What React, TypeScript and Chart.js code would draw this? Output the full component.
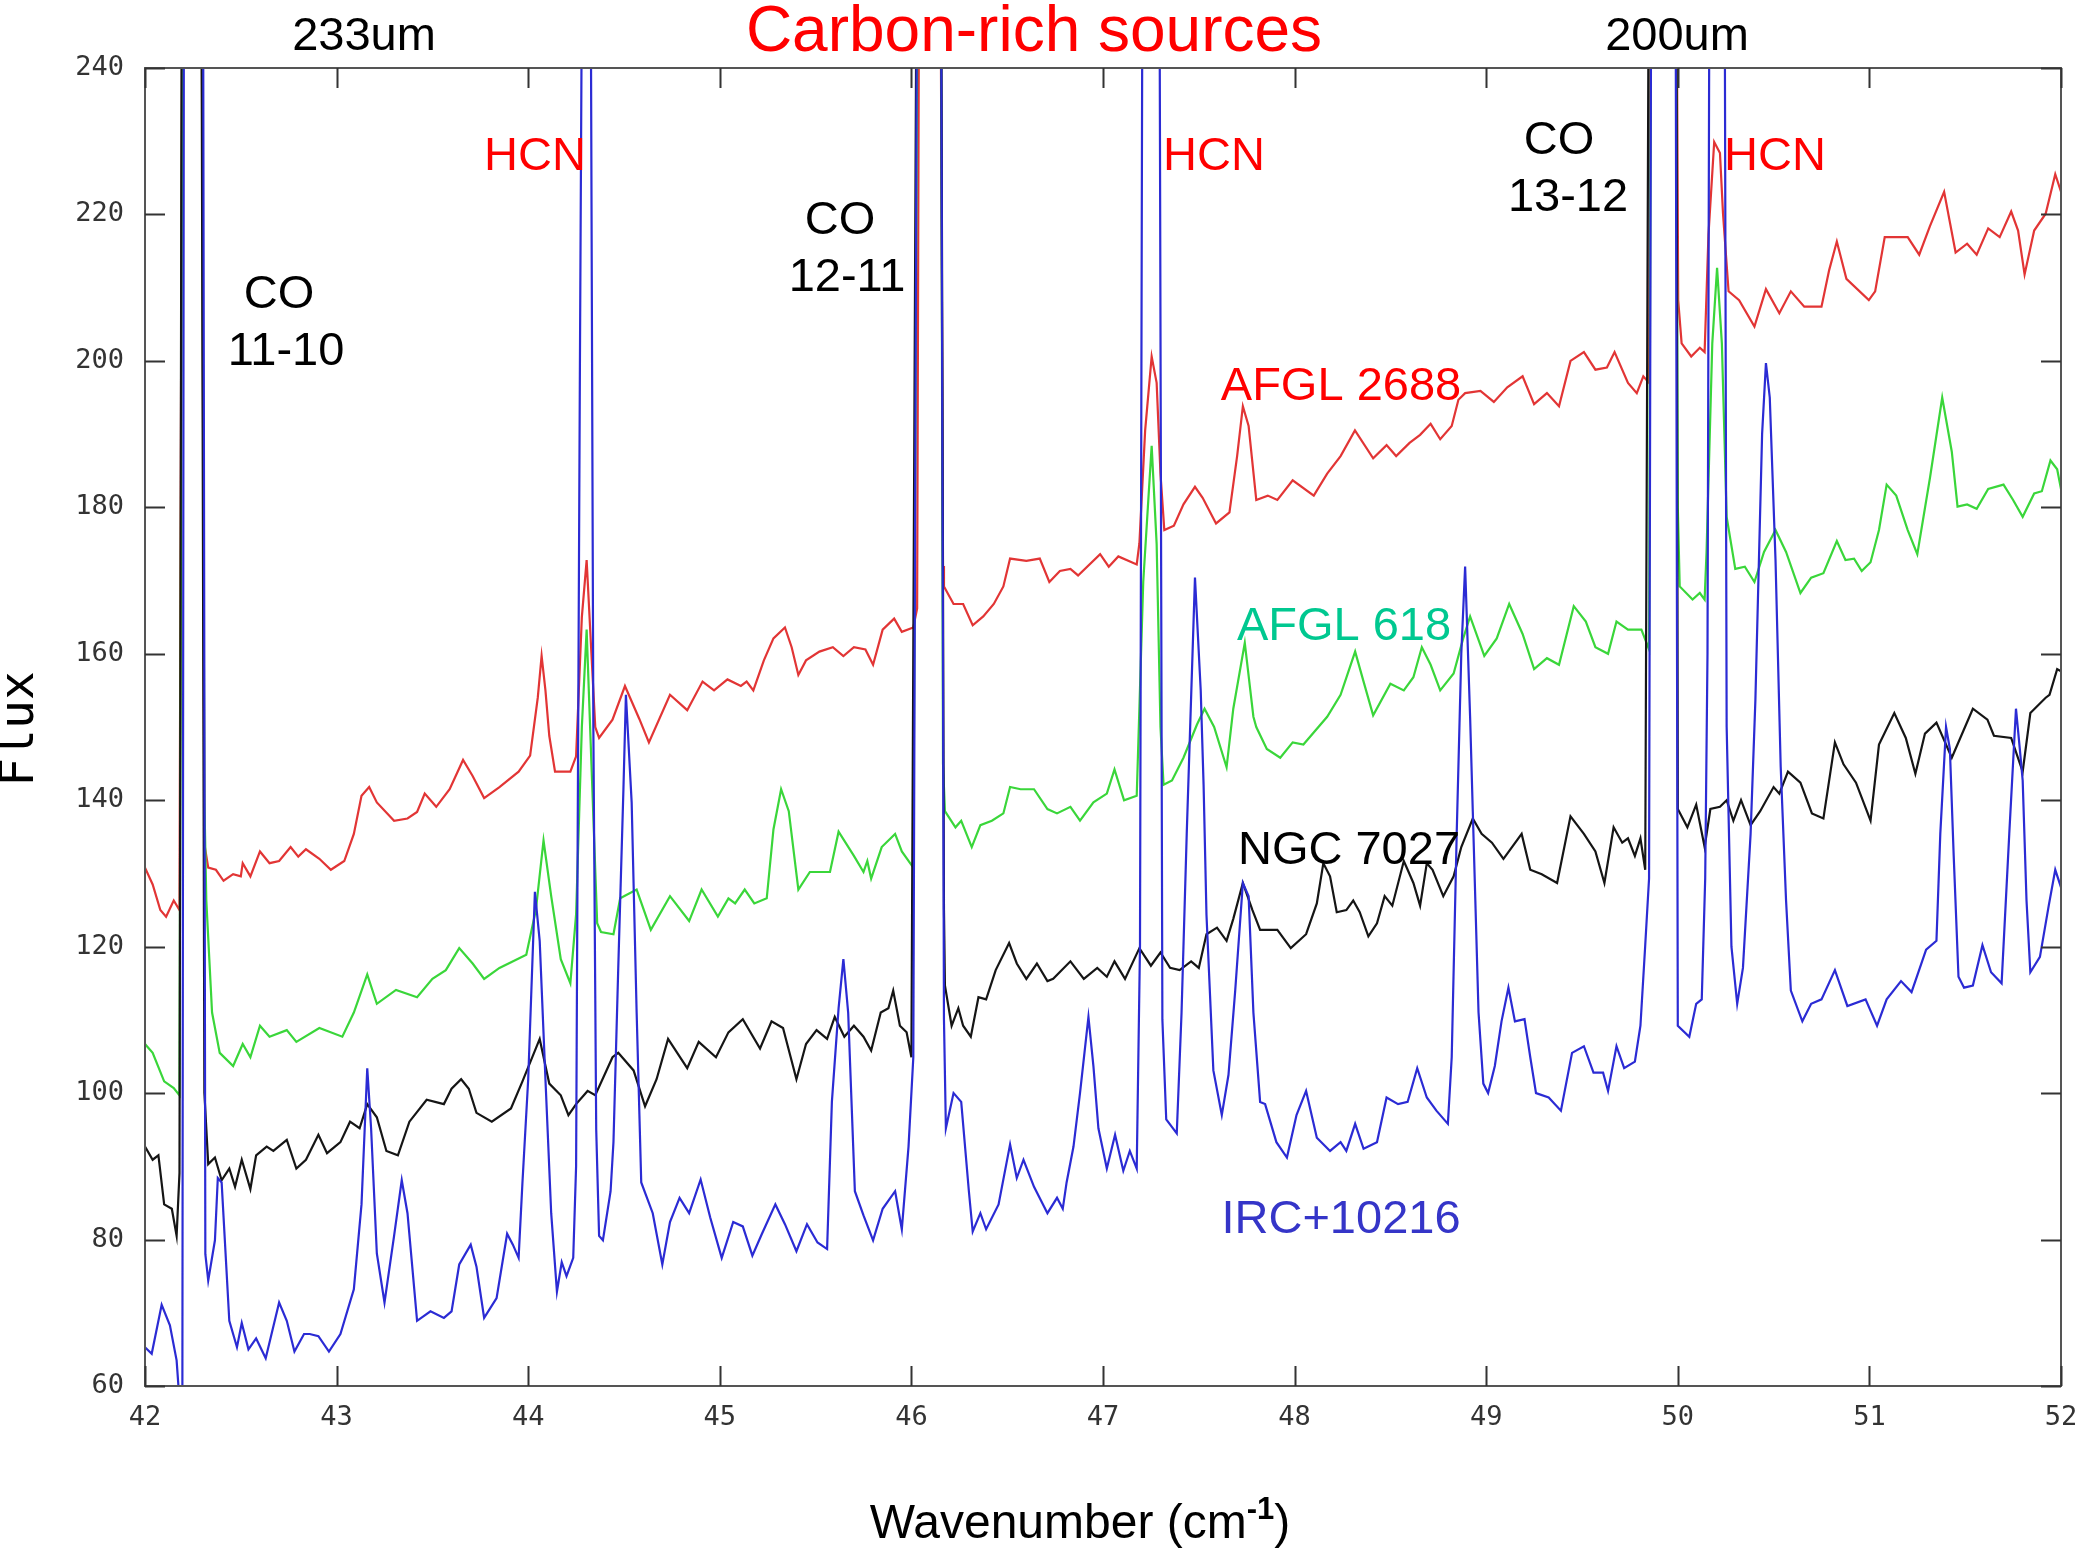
import React, { useEffect, useRef } from "react";
import { Chart, registerables } from "chart.js";

Chart.register(...registerables);

// ---- axis ticks ----
const X_TICKS = [42, 43, 44, 45, 46, 47, 48, 49, 50, 51, 52];
const Y_TICKS = [60, 80, 100, 120, 140, 160, 180, 200, 220, 240];

// ---- spectra: [wavenumber (cm^-1), flux]; values > 240 are off-scale line peaks ----
const AFGL2688: [number, number][] = [
  [42.0,130.8],[42.04,128.5],[42.08,125],[42.11,124.1],[42.15,126.3],[42.18,125],[42.2,300],[42.29,300],[42.31,134],[42.33,130.8],
  [42.37,130.5],[42.41,129],[42.46,129.9],[42.5,129.6],[42.51,131.4],[42.55,129.6],[42.6,133],[42.65,131.4],[42.7,131.7],[42.76,133.6],
  [42.8,132.3],[42.84,133.3],[42.91,132],[42.97,130.5],[43.04,131.7],[43.09,135.4],[43.13,140.6],[43.17,141.8],[43.21,139.7],[43.3,137.2],
  [43.37,137.5],[43.42,138.4],[43.46,140.9],[43.52,139.1],[43.59,141.5],[43.66,145.5],[43.71,143.3],[43.77,140.3],[43.85,141.8],[43.95,143.9],
  [44.01,146.1],[44.05,154],[44.07,159.7],[44.09,155],[44.11,148.8],[44.14,143.9],[44.22,143.9],[44.25,146],[44.28,165],[44.305,172.8],
  [44.33,160],[44.35,150],[44.37,148.5],[44.44,151],[44.505,155.6],[44.58,151.1],[44.63,147.9],[44.74,154.4],[44.83,152.3],[44.91,156.2],
  [44.97,155],[45.04,156.5],[45.11,155.6],[45.14,156.2],[45.175,155],[45.23,159.1],[45.28,162.1],[45.34,163.6],[45.375,160.9],[45.41,157.1],
  [45.45,159.1],[45.52,160.3],[45.59,160.9],[45.645,159.7],[45.7,160.9],[45.76,160.6],[45.8,158.5],[45.85,163.3],[45.91,164.8],[45.95,163],
  [46.01,163.6],[46.03,166.2],[46.045,300],[46.145,300],[46.165,172],[46.17,169.2],[46.22,166.8],[46.27,166.8],[46.32,163.9],[46.375,165.1],
  [46.43,166.8],[46.48,169.2],[46.515,173],[46.6,172.7],[46.67,173],[46.72,169.8],[46.775,171.3],[46.83,171.6],[46.87,170.7],[46.985,173.6],
  [47.03,171.9],[47.08,173.3],[47.176,172.2],[47.19,175.1],[47.22,190.5],[47.254,200.6],[47.28,197],[47.3,184.6],[47.32,176.9],[47.37,177.5],
  [47.42,180.4],[47.48,182.8],[47.52,181.3],[47.59,177.8],[47.66,179.3],[47.7,187],[47.73,193.8],[47.76,191.1],[47.8,181],[47.86,181.6],
  [47.91,181],[47.99,183.7],[48.1,181.6],[48.17,184.6],[48.24,187],[48.315,190.5],[48.41,186.7],[48.48,188.5],[48.53,187],[48.6,188.8],
  [48.655,189.9],[48.71,191.4],[48.76,189.3],[48.82,191.1],[48.855,194.7],[48.89,195.6],[48.97,195.9],[49.04,194.4],[49.11,196.4],[49.19,197.9],
  [49.25,194.1],[49.317,195.6],[49.38,193.8],[49.44,200],[49.51,201.2],[49.57,198.8],[49.63,199.1],[49.67,201.2],[49.74,197],[49.786,195.6],
  [49.82,197.9],[49.85,197],[49.865,300],[49.985,300],[50.002,208.3],[50.02,202.4],[50.07,200.6],[50.115,201.8],[50.14,201.2],[50.16,217.2],
  [50.19,229.9],[50.22,228.4],[50.236,220.1],[50.265,209.5],[50.32,208.3],[50.4,204.7],[50.46,209.8],[50.53,206.5],[50.59,209.5],[50.66,207.4],
  [50.75,207.4],[50.79,212.4],[50.83,216.3],[50.88,211.2],[50.997,208.3],[51.03,209.5],[51.08,216.9],[51.2,216.9],[51.26,214.5],[51.316,218.4],
  [51.39,223.1],[51.45,214.8],[51.51,216],[51.56,214.5],[51.62,218.1],[51.68,216.9],[51.74,220.4],[51.776,217.8],[51.81,211.8],[51.86,217.8],
  [51.92,220.1],[51.97,225.5],[52.0,223.1],
];

const AFGL618: [number, number][] = [
  [42.0,106.7],[42.04,105.5],[42.1,101.6],[42.15,100.7],[42.18,99.7],[42.2,300],[42.29,300],[42.31,140],[42.32,126.3],[42.35,111],
  [42.39,105.5],[42.46,103.7],[42.51,106.7],[42.55,104.9],[42.6,109.2],[42.65,107.7],[42.74,108.6],[42.79,107],[42.91,108.9],[43.03,107.7],
  [43.09,111],[43.16,116.2],[43.21,112.2],[43.31,114.1],[43.42,113.1],[43.5,115.6],[43.57,116.8],[43.64,119.8],[43.71,117.7],[43.77,115.6],
  [43.85,117.1],[43.99,118.9],[44.04,125],[44.08,134.5],[44.12,126.9],[44.17,118.3],[44.22,115],[44.25,124.4],[44.28,150],[44.305,163.3],
  [44.33,145],[44.36,123.2],[44.38,122],[44.445,121.7],[44.48,126.6],[44.566,127.8],[44.64,122.3],[44.74,126.9],[44.84,123.5],[44.905,127.8],
  [44.99,124.1],[45.045,126.6],[45.08,125.9],[45.13,127.8],[45.18,125.9],[45.245,126.6],[45.28,136],[45.32,141.5],[45.36,138.5],[45.41,127.8],
  [45.47,130.2],[45.575,130.2],[45.62,135.7],[45.7,132.4],[45.75,130.2],[45.77,131.7],[45.79,129.3],[45.845,133.6],[45.915,135.4],[45.95,133],
  [46.01,130.8],[46.04,300],[46.15,300],[46.165,145],[46.175,138.5],[46.23,136.3],[46.26,137.2],[46.315,133.6],[46.36,136.6],[46.42,137.2],
  [46.48,138.2],[46.515,141.8],[46.57,141.5],[46.64,141.5],[46.71,138.8],[46.76,138.2],[46.83,139.1],[46.88,137.2],[46.95,139.7],[47.02,140.9],
  [47.06,144.2],[47.11,140],[47.176,140.6],[47.21,169.8],[47.254,188.4],[47.28,175],[47.3,150],[47.316,142.1],[47.36,142.7],[47.42,145.8],
  [47.49,150.3],[47.53,152.5],[47.58,150],[47.645,144.5],[47.68,152.5],[47.74,161.5],[47.785,151.4],[47.8,150],[47.855,147],[47.925,145.8],
  [47.99,147.9],[48.046,147.6],[48.17,151.4],[48.24,154.4],[48.316,160.3],[48.36,156.2],[48.41,151.6],[48.5,155.9],[48.57,155],[48.62,156.8],
  [48.664,160.9],[48.71,158.5],[48.76,155],[48.83,157.3],[48.88,162.1],[48.916,165.1],[48.99,159.7],[49.055,162.1],[49.12,166.8],[49.19,162.7],
  [49.25,157.9],[49.317,159.4],[49.38,158.5],[49.457,166.5],[49.52,164.4],[49.57,160.9],[49.636,160],[49.68,164.4],[49.74,163.3],[49.81,163.3],
  [49.85,160.6],[49.865,300],[49.985,300],[50.0,180],[50.01,169.2],[50.077,167.4],[50.115,168.3],[50.14,167.4],[50.15,173.9],[50.18,202.4],
  [50.205,212.7],[50.23,202.4],[50.255,178.7],[50.3,171.6],[50.35,171.9],[50.4,169.8],[50.45,173.9],[50.51,176.9],[50.565,173.9],[50.64,168.3],
  [50.696,170.4],[50.76,171],[50.83,175.4],[50.875,172.8],[50.92,173],[50.96,171.3],[51.006,172.5],[51.05,176.9],[51.09,183.1],[51.14,181.6],
  [51.2,176.9],[51.25,173.6],[51.316,184],[51.38,195],[51.43,187.6],[51.46,180.1],[51.51,180.4],[51.56,179.8],[51.62,182.5],[51.7,183.1],
  [51.75,181],[51.8,178.7],[51.86,181.9],[51.9,182.2],[51.945,186.4],[51.98,185.2],[52.0,182.5],
];

const NGC7027: [number, number][] = [
  [42.0,92.7],[42.04,90.9],[42.07,91.5],[42.1,84.8],[42.14,84.2],[42.165,80.5],[42.18,89.1],[42.195,300],[42.29,300],[42.31,100],
  [42.33,90.3],[42.365,91.2],[42.4,88.1],[42.44,89.7],[42.47,87.2],[42.505,90.9],[42.55,86.9],[42.58,91.5],[42.635,92.7],[42.67,92.1],
  [42.74,93.6],[42.79,89.7],[42.84,90.9],[42.905,94.3],[42.95,91.8],[43.02,93.3],[43.07,96.1],[43.12,95.2],[43.16,98.5],[43.21,96.7],
  [43.26,92.1],[43.32,91.5],[43.38,96.1],[43.47,99.1],[43.56,98.5],[43.6,100.6],[43.65,101.9],[43.69,100.6],[43.73,97.3],[43.81,96.1],
  [43.91,97.9],[43.97,101.6],[44.06,107.4],[44.11,101.3],[44.17,99.7],[44.21,97],[44.25,98.5],[44.31,100.3],[44.35,99.7],[44.44,104.9],
  [44.47,105.5],[44.55,103.1],[44.61,98.2],[44.67,101.9],[44.73,107.4],[44.83,103.4],[44.89,107],[44.98,104.9],[45.045,108.3],[45.12,110.1],
  [45.21,106.1],[45.27,109.8],[45.33,108.9],[45.4,101.9],[45.45,106.7],[45.505,108.6],[45.56,107.4],[45.6,110.4],[45.65,107.7],[45.7,109.2],
  [45.75,107.7],[45.79,105.8],[45.84,111],[45.88,111.6],[45.905,114],[45.94,109.2],[45.975,108.3],[46.0,104.9],[46.035,300],[46.15,300],
  [46.17,125],[46.175,114.7],[46.21,109.2],[46.245,111.6],[46.27,109.2],[46.31,107.7],[46.35,113.1],[46.39,112.8],[46.44,116.8],[46.51,120.5],
  [46.55,117.7],[46.6,115.6],[46.655,117.7],[46.71,115.3],[46.74,115.6],[46.83,118],[46.9,115.6],[46.97,117.1],[47.02,115.9],[47.06,118],
  [47.115,115.6],[47.19,119.8],[47.25,117.4],[47.3,119.2],[47.35,117.1],[47.4,116.8],[47.46,118],[47.5,117.1],[47.54,121.7],[47.595,122.6],
  [47.645,120.8],[47.68,123.8],[47.73,128.7],[47.78,125],[47.82,122.3],[47.91,122.3],[47.98,119.8],[48.06,121.7],[48.116,125.9],[48.15,131.4],
  [48.185,129.6],[48.22,124.7],[48.27,125],[48.306,126.3],[48.34,124.7],[48.385,121.4],[48.43,123.2],[48.47,126.9],[48.51,125.6],[48.57,131.7],
  [48.59,130.5],[48.62,128.7],[48.655,125.6],[48.69,131.4],[48.72,130.5],[48.776,126.9],[48.83,129.6],[48.87,133.6],[48.93,137.5],[48.976,135.4],
  [49.03,134.2],[49.09,132],[49.185,135.4],[49.23,130.5],[49.29,129.9],[49.37,128.7],[49.44,137.8],[49.51,135.4],[49.57,133],[49.617,128.7],
  [49.665,136.3],[49.71,134.2],[49.74,134.8],[49.776,132.4],[49.805,134.8],[49.83,130.5],[49.855,300],[49.99,300],[50.0,138.8],[50.05,136.3],
  [50.096,139.4],[50.14,133.6],[50.17,138.8],[50.22,139.1],[50.255,140],[50.29,137.2],[50.33,140],[50.38,136.6],[50.43,138.5],[50.5,141.8],
  [50.53,140.9],[50.575,143.9],[50.64,142.4],[50.7,138.2],[50.76,137.5],[50.82,147.9],[50.865,144.9],[50.93,142.4],[51.006,137.2],[51.05,147.6],
  [51.13,151.9],[51.19,148.5],[51.24,143.6],[51.29,149.1],[51.35,150.6],[51.43,145.8],[51.54,152.5],[51.616,151],[51.65,148.8],[51.74,148.5],
  [51.8,143.9],[51.84,151.9],[51.92,154],[51.94,154.4],[51.98,157.9],[52.0,157.6],
];

const IRC10216: [number, number][] = [
  [42.0,65.3],[42.035,64.4],[42.087,71.1],[42.13,68.3],[42.165,63.5],[42.18,58],[42.195,58],[42.205,300],[42.3,300],[42.315,78],
  [42.33,74.4],[42.365,79.9],[42.38,88.4],[42.4,87.8],[42.44,68.9],[42.48,65.3],[42.505,68.6],[42.54,65],[42.58,66.5],[42.63,63.8],
  [42.7,71.4],[42.74,68.9],[42.78,64.7],[42.83,67.1],[42.86,67.1],[42.905,66.8],[42.96,64.7],[43.02,67.1],[43.09,73.2],[43.13,84.8],
  [43.16,103.4],[43.18,95.2],[43.21,78.1],[43.25,71.4],[43.3,80.5],[43.34,88.1],[43.37,83.6],[43.42,68.9],[43.49,70.2],[43.56,69.3],
  [43.6,70.2],[43.64,76.6],[43.7,79.3],[43.73,76.3],[43.77,69.3],[43.835,72],[43.89,80.8],[43.92,79.3],[43.95,77.5],[43.97,87.8],
  [44.0,101.9],[44.035,127.5],[44.06,120.8],[44.09,101.9],[44.12,83.6],[44.15,72.9],[44.175,76.9],[44.2,75],[44.235,77.5],[44.25,90],
  [44.27,200],[44.29,300],[44.32,300],[44.34,150],[44.355,95],[44.37,80.5],[44.39,79.9],[44.43,86.6],[44.445,93.3],[44.47,117.1],
  [44.497,141.5],[44.51,154.4],[44.54,139.7],[44.566,111],[44.59,87.8],[44.65,83.6],[44.7,76.6],[44.74,82.4],[44.79,85.7],[44.84,83.6],
  [44.9,88.2],[44.95,83],[45.01,77.5],[45.07,82.4],[45.12,81.8],[45.17,77.8],[45.22,80.8],[45.29,84.8],[45.34,82.1],[45.4,78.4],
  [45.455,82.1],[45.51,79.6],[45.56,78.7],[45.585,98.8],[45.62,111.6],[45.645,118.3],[45.67,111],[45.705,86.6],[45.75,83.3],[45.8,79.9],
  [45.85,84.2],[45.915,86.6],[45.95,81.4],[45.985,92.7],[46.01,104.9],[46.035,300],[46.15,300],[46.17,110],[46.18,95.2],[46.22,100],
  [46.26,98.8],[46.3,86.6],[46.32,81.1],[46.36,83.6],[46.39,81.4],[46.455,84.8],[46.515,93],[46.55,88.4],[46.585,90.9],[46.64,87.2],
  [46.71,83.6],[46.76,85.7],[46.79,84.2],[46.81,87.8],[46.846,92.7],[46.88,100],[46.924,110.4],[46.95,103.7],[46.976,95.2],[47.02,89.7],
  [47.063,94.3],[47.106,89.4],[47.14,92.1],[47.176,89.7],[47.193,120],[47.21,300],[47.29,300],[47.31,110],[47.33,96.4],[47.385,94.5],
  [47.41,111],[47.437,135.4],[47.48,170.4],[47.51,155],[47.525,142.1],[47.54,124.4],[47.576,103.1],[47.62,97],[47.655,102.5],[47.69,114],
  [47.73,128.7],[47.76,126.9],[47.785,111],[47.82,98.8],[47.846,98.5],[47.905,93.3],[47.96,91.2],[48.01,97],[48.06,100.3],[48.116,93.9],
  [48.185,92.1],[48.24,93.3],[48.27,92.1],[48.316,95.8],[48.36,92.4],[48.43,93.3],[48.48,99.4],[48.54,98.5],[48.59,98.8],[48.64,103.4],
  [48.69,99.4],[48.74,97.6],[48.8,95.8],[48.82,104.9],[48.846,135.4],[48.87,160],[48.89,171.9],[48.916,151.4],[48.93,138.5],[48.96,111],
  [48.985,101.3],[49.01,100],[49.045,103.7],[49.08,109.8],[49.116,114.4],[49.15,109.8],[49.2,110.1],[49.23,104.9],[49.26,100],[49.326,99.4],
  [49.39,97.6],[49.448,105.5],[49.51,106.4],[49.56,102.8],[49.61,102.8],[49.636,100.3],[49.68,106.4],[49.72,103.4],[49.776,104.3],[49.805,109.2],
  [49.83,120.2],[49.85,129.3],[49.865,300],[49.985,300],[50.0,109.2],[50.06,107.7],[50.096,112.2],[50.125,112.8],[50.143,129.3],[50.155,160],
  [50.17,300],[50.24,300],[50.255,150],[50.28,120],[50.31,112.2],[50.34,117.1],[50.38,135.4],[50.405,153.7],[50.44,190],[50.46,199.7],
  [50.48,195],[50.51,172.8],[50.537,144.6],[50.565,126.3],[50.59,114],[50.65,109.8],[50.696,112.2],[50.75,112.8],[50.82,116.8],[50.885,111.9],
  [50.98,112.8],[51.04,109.2],[51.09,112.8],[51.165,115.3],[51.22,113.8],[51.296,119.6],[51.35,120.8],[51.37,135.4],[51.4,150],[51.42,147],
  [51.44,132.4],[51.465,115.9],[51.494,114.4],[51.54,114.7],[51.59,120.2],[51.635,116.5],[51.69,115],[51.73,135.4],[51.765,152.5],[51.785,147],
  [51.8,142.7],[51.82,126.3],[51.84,116.5],[51.89,118.6],[51.936,125.6],[51.97,130.5],[52.0,128.1],
];

// dataset 0 is drawn on top
const SERIES = [
  { label: "IRC+10216", points: IRC10216, color: "#2b2bd4" },
  { label: "NGC 7027", points: NGC7027, color: "#151515" },
  { label: "AFGL 618", points: AFGL618, color: "#3ad63a" },
  { label: "AFGL 2688", points: AFGL2688, color: "#e23535" },
];

const SANS = "'Liberation Sans', Arial, sans-serif";
const MONO = "'DejaVu Sans Mono', monospace";

const ANNOTATIONS = [
  { text: "233um", x: 364, y: 37, color: "#000000", size: 47 },
  { text: "Carbon-rich sources", x: 1034, y: 33, color: "#ff0000", size: 64 },
  { text: "200um", x: 1677, y: 37, color: "#000000", size: 47 },
  { text: "HCN", x: 535, y: 157, color: "#ff0000", size: 47 },
  { text: "HCN", x: 1214, y: 157, color: "#ff0000", size: 47 },
  { text: "HCN", x: 1775, y: 157, color: "#ff0000", size: 47 },
  { text: "CO", x: 279, y: 295, color: "#000000", size: 47 },
  { text: "11-10", x: 286, y: 352, color: "#000000", size: 47 },
  { text: "CO", x: 840, y: 221, color: "#000000", size: 47 },
  { text: "12-11", x: 847, y: 278, color: "#000000", size: 47 },
  { text: "CO", x: 1559, y: 141, color: "#000000", size: 47 },
  { text: "13-12", x: 1568, y: 198, color: "#000000", size: 47 },
  { text: "AFGL 2688", x: 1341, y: 387, color: "#ff0000", size: 47 },
  { text: "AFGL 618", x: 1344, y: 627, color: "#00c890", size: 47 },
  { text: "NGC 7027", x: 1349, y: 851, color: "#000000", size: 47 },
  { text: "IRC+10216", x: 1341, y: 1220, color: "#3535c8", size: 47 },
];

const TICK_LEN = 20;

const framePlugin = {
  id: "frameAndText",
  afterDraw(chart: any) {
    const { ctx, chartArea: a, scales } = chart;
    ctx.save();
    // frame
    ctx.strokeStyle = "#555555";
    ctx.lineWidth = 2;
    ctx.strokeRect(a.left, a.top, a.right - a.left, a.bottom - a.top);
    // inward ticks on all four sides
    ctx.strokeStyle = "#333333";
    ctx.lineWidth = 2;
    ctx.beginPath();
    for (const v of X_TICKS) {
      const px = Math.round(scales.x.getPixelForValue(v)) + 0.5;
      ctx.moveTo(px, a.top);
      ctx.lineTo(px, a.top + TICK_LEN);
      ctx.moveTo(px, a.bottom);
      ctx.lineTo(px, a.bottom - TICK_LEN);
    }
    for (const v of Y_TICKS) {
      const py = Math.round(scales.y.getPixelForValue(v)) + 0.5;
      ctx.moveTo(a.left, py);
      ctx.lineTo(a.left + TICK_LEN, py);
      ctx.moveTo(a.right, py);
      ctx.lineTo(a.right - TICK_LEN, py);
    }
    ctx.stroke();

    // annotations
    ctx.textAlign = "center";
    ctx.textBaseline = "middle";
    for (const t of ANNOTATIONS) {
      ctx.font = `${t.size}px ${SANS}`;
      ctx.fillStyle = t.color;
      ctx.fillText(t.text, t.x, t.y);
    }

    // y-axis title
    ctx.save();
    ctx.translate(21, 729);
    ctx.rotate(-Math.PI / 2);
    ctx.font = `48px ${MONO}`;
    ctx.fillStyle = "#000";
    ctx.textAlign = "center";
    ctx.textBaseline = "middle";
    ctx.fillText("Flux", 0, 0);
    ctx.restore();

    // x-axis title with superscript
    const main1 = "Wavenumber (cm";
    const sup = "-1";
    const main2 = ")";
    ctx.textBaseline = "alphabetic";
    ctx.textAlign = "left";
    ctx.font = `48px ${SANS}`;
    const w1 = ctx.measureText(main1).width;
    const w3 = ctx.measureText(main2).width;
    ctx.font = `bold 31px ${SANS}`;
    const w2 = ctx.measureText(sup).width;
    const total = w1 + w2 + w3;
    const x0 = 1080 - total / 2;
    const base = 1538;
    ctx.fillStyle = "#000";
    ctx.font = `48px ${SANS}`;
    ctx.fillText(main1, x0, base);
    ctx.font = `bold 31px ${SANS}`;
    ctx.fillText(sup, x0 + w1, base - 19);
    ctx.font = `48px ${SANS}`;
    ctx.fillText(main2, x0 + w1 + w2, base);
    ctx.restore();
  },
};

export default function App() {
  const canvasRef = useRef<HTMLCanvasElement | null>(null);

  useEffect(() => {
    const canvas = canvasRef.current;
    if (!canvas) return;
    const chart = new Chart(canvas, {
      type: "line",
      data: {
        datasets: SERIES.map((s) => ({
          label: s.label,
          data: s.points.map(([x, y]) => ({ x, y })),
          borderColor: s.color,
          backgroundColor: s.color,
          borderWidth: 2.2,
          pointRadius: 0,
          tension: 0,
          fill: false,
        })),
      },
      options: {
        responsive: false,
        animation: false,
        devicePixelRatio: 1,
        layout: { padding: { top: 68, right: 23, bottom: 0, left: 0 } },
        plugins: {
          legend: { display: false },
          tooltip: { enabled: false },
          title: { display: false },
        },
        scales: {
          x: {
            type: "linear",
            min: X_TICKS[0],
            max: X_TICKS[X_TICKS.length - 1],
            afterBuildTicks: (scale: any) => {
              scale.ticks = X_TICKS.map((v) => ({ value: v }));
            },
            afterFit: (scale: any) => {
              scale.height = 166;
              scale.paddingLeft = 0;
              scale.paddingRight = 0;
            },
            grid: { display: false, drawTicks: false },
            border: { display: false },
            ticks: {
              autoSkip: false,
              maxRotation: 0,
              padding: 16,
              color: "#333333",
              font: { family: MONO, size: 27 },
            },
          },
          y: {
            type: "linear",
            min: Y_TICKS[0],
            max: Y_TICKS[Y_TICKS.length - 1],
            afterBuildTicks: (scale: any) => {
              scale.ticks = Y_TICKS.map((v) => ({ value: v }));
            },
            afterFit: (scale: any) => {
              scale.width = 145;
              scale.paddingTop = 0;
              scale.paddingBottom = 0;
            },
            grid: { display: false, drawTicks: false },
            border: { display: false },
            ticks: {
              autoSkip: false,
              padding: 21,
              color: "#333333",
              font: { family: MONO, size: 27 },
            },
          },
        },
      },
      plugins: [framePlugin],
    });
    return () => chart.destroy();
  }, []);

  return (
    <div style={{ position: "absolute", left: 0, top: 0, width: 2084, height: 1552, background: "#fff" }}>
      <canvas ref={canvasRef} width={2084} height={1552} style={{ display: "block" }} />
    </div>
  );
}
